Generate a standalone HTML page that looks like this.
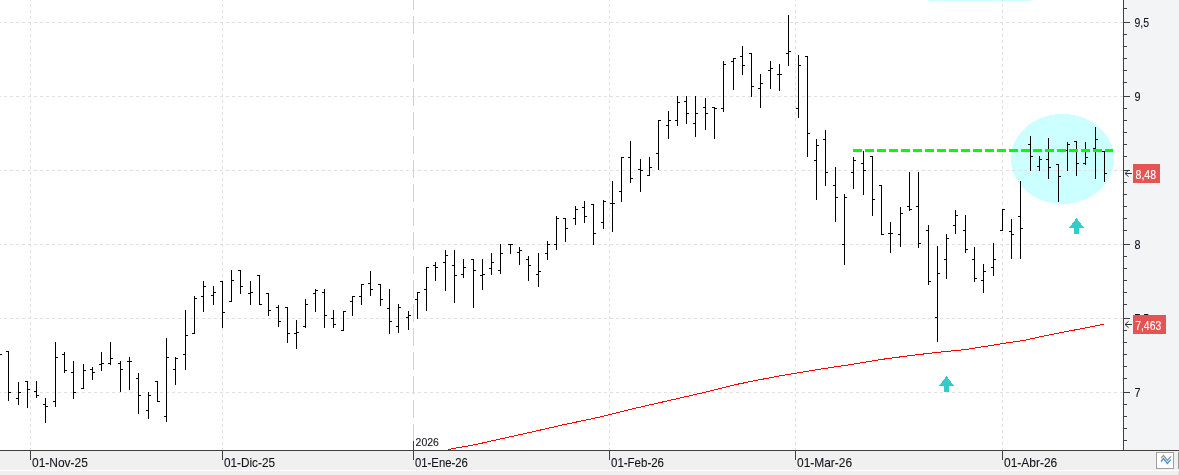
<!DOCTYPE html>
<html lang="es"><head><meta charset="utf-8"><title>Grafico</title>
<style>html,body{margin:0;padding:0;background:#fff;overflow:hidden}svg{display:block}text{font-family:"Liberation Sans",sans-serif;fill:#14141e;stroke:#14141e;stroke-width:0.1px}</style>
</head><body>
<svg width="1179" height="475" viewBox="0 0 1179 475" shape-rendering="crispEdges">
<rect x="0" y="0" width="1179" height="475" fill="#ffffff"/>
<rect x="1124" y="0" width="55" height="450" fill="#f3f4f6"/>
<rect x="0" y="451" width="1179" height="24" fill="#f0f0f0"/>
<rect x="0" y="470" width="1179" height="1" fill="#ffffff"/>
<rect x="1178" y="452" width="1" height="17" fill="#9a9a9a"/>
<rect x="1178" y="471" width="1" height="4" fill="#dcdcdc"/>
<rect x="929" y="0" width="102" height="1" fill="#ccffff"/>
<ellipse cx="1062.5" cy="159" rx="51.5" ry="45" fill="#ccffff"/>
<line x1="413.5" y1="0" x2="413.5" y2="441" stroke="#d2d2d2" stroke-width="1" stroke-dasharray="18 6" stroke-dashoffset="8"/>
<g stroke="#e0e0e0" stroke-width="1" stroke-dasharray="3 3" stroke-dashoffset="2" fill="none">
<line x1="0" y1="22.5" x2="1123" y2="22.5"/>
<line x1="0" y1="96.5" x2="1123" y2="96.5"/>
<line x1="0" y1="170.5" x2="1123" y2="170.5"/>
<line x1="0" y1="244.5" x2="1123" y2="244.5"/>
<line x1="0" y1="318.5" x2="1123" y2="318.5"/>
<line x1="0" y1="392.5" x2="1123" y2="392.5"/>
<line x1="30.5" y1="0" x2="30.5" y2="450"/>
<line x1="222.5" y1="0" x2="222.5" y2="450"/>
<line x1="609.5" y1="0" x2="609.5" y2="450"/>
<line x1="795.5" y1="0" x2="795.5" y2="450"/>
<line x1="1002.5" y1="0" x2="1002.5" y2="450"/>
</g>
<g fill="#000000">
<rect x="0" y="354" width="2" height="1"/>
<rect x="8" y="351" width="1" height="50"/>
<rect x="6" y="351" width="2" height="1"/>
<rect x="9" y="392" width="2" height="1"/>
<rect x="18" y="382" width="1" height="23"/>
<rect x="16" y="398" width="2" height="1"/>
<rect x="19" y="392" width="2" height="1"/>
<rect x="27" y="381" width="1" height="27"/>
<rect x="25" y="381" width="2" height="1"/>
<rect x="28" y="389" width="2" height="1"/>
<rect x="36" y="381" width="1" height="17"/>
<rect x="34" y="391" width="2" height="1"/>
<rect x="37" y="395" width="2" height="1"/>
<rect x="45" y="398" width="1" height="25"/>
<rect x="43" y="404" width="2" height="1"/>
<rect x="46" y="406" width="2" height="1"/>
<rect x="55" y="342" width="1" height="65"/>
<rect x="53" y="401" width="2" height="1"/>
<rect x="56" y="357" width="2" height="1"/>
<rect x="64" y="352" width="1" height="21"/>
<rect x="62" y="354" width="2" height="1"/>
<rect x="65" y="370" width="2" height="1"/>
<rect x="73" y="361" width="1" height="38"/>
<rect x="71" y="372" width="2" height="1"/>
<rect x="74" y="392" width="2" height="1"/>
<rect x="83" y="364" width="1" height="25"/>
<rect x="81" y="388" width="2" height="1"/>
<rect x="84" y="370" width="2" height="1"/>
<rect x="92" y="367" width="1" height="13"/>
<rect x="90" y="369" width="2" height="1"/>
<rect x="93" y="372" width="2" height="1"/>
<rect x="101" y="352" width="1" height="19"/>
<rect x="99" y="364" width="2" height="1"/>
<rect x="102" y="363" width="2" height="1"/>
<rect x="110" y="342" width="1" height="23"/>
<rect x="108" y="363" width="2" height="1"/>
<rect x="111" y="358" width="2" height="1"/>
<rect x="120" y="361" width="1" height="31"/>
<rect x="118" y="363" width="2" height="1"/>
<rect x="121" y="369" width="2" height="1"/>
<rect x="129" y="357" width="1" height="33"/>
<rect x="127" y="361" width="2" height="1"/>
<rect x="130" y="361" width="2" height="1"/>
<rect x="138" y="373" width="1" height="41"/>
<rect x="136" y="378" width="2" height="1"/>
<rect x="139" y="395" width="2" height="1"/>
<rect x="148" y="392" width="1" height="27"/>
<rect x="146" y="410" width="2" height="1"/>
<rect x="149" y="395" width="2" height="1"/>
<rect x="157" y="381" width="1" height="21"/>
<rect x="155" y="381" width="2" height="1"/>
<rect x="158" y="401" width="2" height="1"/>
<rect x="166" y="338" width="1" height="84"/>
<rect x="164" y="416" width="2" height="1"/>
<rect x="167" y="357" width="2" height="1"/>
<rect x="175" y="357" width="1" height="28"/>
<rect x="173" y="369" width="2" height="1"/>
<rect x="176" y="358" width="2" height="1"/>
<rect x="185" y="310" width="1" height="60"/>
<rect x="183" y="354" width="2" height="1"/>
<rect x="186" y="335" width="2" height="1"/>
<rect x="194" y="296" width="1" height="38"/>
<rect x="192" y="333" width="2" height="1"/>
<rect x="195" y="298" width="2" height="1"/>
<rect x="203" y="281" width="1" height="31"/>
<rect x="201" y="296" width="2" height="1"/>
<rect x="204" y="286" width="2" height="1"/>
<rect x="213" y="286" width="1" height="19"/>
<rect x="211" y="295" width="2" height="1"/>
<rect x="214" y="292" width="2" height="1"/>
<rect x="222" y="281" width="1" height="47"/>
<rect x="220" y="281" width="2" height="1"/>
<rect x="223" y="312" width="2" height="1"/>
<rect x="231" y="270" width="1" height="32"/>
<rect x="229" y="301" width="2" height="1"/>
<rect x="232" y="280" width="2" height="1"/>
<rect x="240" y="270" width="1" height="24"/>
<rect x="238" y="270" width="2" height="1"/>
<rect x="241" y="286" width="2" height="1"/>
<rect x="250" y="281" width="1" height="24"/>
<rect x="248" y="293" width="2" height="1"/>
<rect x="251" y="292" width="2" height="1"/>
<rect x="259" y="275" width="1" height="30"/>
<rect x="257" y="275" width="2" height="1"/>
<rect x="260" y="304" width="2" height="1"/>
<rect x="268" y="293" width="1" height="23"/>
<rect x="266" y="293" width="2" height="1"/>
<rect x="269" y="310" width="2" height="1"/>
<rect x="278" y="305" width="1" height="22"/>
<rect x="276" y="307" width="2" height="1"/>
<rect x="279" y="321" width="2" height="1"/>
<rect x="287" y="307" width="1" height="36"/>
<rect x="285" y="307" width="2" height="1"/>
<rect x="288" y="333" width="2" height="1"/>
<rect x="296" y="320" width="1" height="29"/>
<rect x="294" y="333" width="2" height="1"/>
<rect x="297" y="332" width="2" height="1"/>
<rect x="305" y="299" width="1" height="29"/>
<rect x="303" y="326" width="2" height="1"/>
<rect x="306" y="304" width="2" height="1"/>
<rect x="315" y="289" width="1" height="23"/>
<rect x="313" y="293" width="2" height="1"/>
<rect x="316" y="290" width="2" height="1"/>
<rect x="324" y="289" width="1" height="39"/>
<rect x="322" y="292" width="2" height="1"/>
<rect x="325" y="315" width="2" height="1"/>
<rect x="333" y="310" width="1" height="18"/>
<rect x="331" y="318" width="2" height="1"/>
<rect x="334" y="324" width="2" height="1"/>
<rect x="343" y="311" width="1" height="20"/>
<rect x="341" y="330" width="2" height="1"/>
<rect x="344" y="311" width="2" height="1"/>
<rect x="352" y="296" width="1" height="20"/>
<rect x="350" y="301" width="2" height="1"/>
<rect x="353" y="296" width="2" height="1"/>
<rect x="361" y="284" width="1" height="21"/>
<rect x="359" y="296" width="2" height="1"/>
<rect x="362" y="284" width="2" height="1"/>
<rect x="370" y="271" width="1" height="25"/>
<rect x="368" y="283" width="2" height="1"/>
<rect x="371" y="289" width="2" height="1"/>
<rect x="380" y="284" width="1" height="22"/>
<rect x="378" y="284" width="2" height="1"/>
<rect x="381" y="299" width="2" height="1"/>
<rect x="389" y="289" width="1" height="45"/>
<rect x="387" y="308" width="2" height="1"/>
<rect x="390" y="321" width="2" height="1"/>
<rect x="398" y="304" width="1" height="29"/>
<rect x="396" y="326" width="2" height="1"/>
<rect x="399" y="307" width="2" height="1"/>
<rect x="408" y="311" width="1" height="19"/>
<rect x="406" y="317" width="2" height="1"/>
<rect x="409" y="315" width="2" height="1"/>
<rect x="417" y="292" width="1" height="27"/>
<rect x="415" y="299" width="2" height="1"/>
<rect x="418" y="292" width="2" height="1"/>
<rect x="426" y="267" width="1" height="44"/>
<rect x="424" y="289" width="2" height="1"/>
<rect x="427" y="267" width="2" height="1"/>
<rect x="435" y="262" width="1" height="19"/>
<rect x="433" y="265" width="2" height="1"/>
<rect x="436" y="267" width="2" height="1"/>
<rect x="445" y="250" width="1" height="41"/>
<rect x="443" y="262" width="2" height="1"/>
<rect x="446" y="255" width="2" height="1"/>
<rect x="454" y="250" width="1" height="53"/>
<rect x="452" y="265" width="2" height="1"/>
<rect x="455" y="275" width="2" height="1"/>
<rect x="463" y="259" width="1" height="19"/>
<rect x="461" y="274" width="2" height="1"/>
<rect x="464" y="267" width="2" height="1"/>
<rect x="473" y="259" width="1" height="49"/>
<rect x="471" y="259" width="2" height="1"/>
<rect x="474" y="270" width="2" height="1"/>
<rect x="482" y="259" width="1" height="31"/>
<rect x="480" y="275" width="2" height="1"/>
<rect x="483" y="274" width="2" height="1"/>
<rect x="491" y="253" width="1" height="22"/>
<rect x="489" y="268" width="2" height="1"/>
<rect x="492" y="262" width="2" height="1"/>
<rect x="500" y="244" width="1" height="30"/>
<rect x="498" y="270" width="2" height="1"/>
<rect x="501" y="253" width="2" height="1"/>
<rect x="510" y="244" width="1" height="10"/>
<rect x="508" y="244" width="2" height="1"/>
<rect x="511" y="244" width="2" height="1"/>
<rect x="519" y="247" width="1" height="18"/>
<rect x="517" y="252" width="2" height="1"/>
<rect x="520" y="250" width="2" height="1"/>
<rect x="528" y="256" width="1" height="25"/>
<rect x="526" y="259" width="2" height="1"/>
<rect x="529" y="265" width="2" height="1"/>
<rect x="538" y="253" width="1" height="34"/>
<rect x="536" y="274" width="2" height="1"/>
<rect x="539" y="271" width="2" height="1"/>
<rect x="547" y="241" width="1" height="19"/>
<rect x="545" y="253" width="2" height="1"/>
<rect x="548" y="244" width="2" height="1"/>
<rect x="556" y="216" width="1" height="34"/>
<rect x="554" y="244" width="2" height="1"/>
<rect x="557" y="218" width="2" height="1"/>
<rect x="565" y="218" width="1" height="24"/>
<rect x="563" y="218" width="2" height="1"/>
<rect x="566" y="228" width="2" height="1"/>
<rect x="575" y="206" width="1" height="19"/>
<rect x="573" y="218" width="2" height="1"/>
<rect x="576" y="209" width="2" height="1"/>
<rect x="584" y="201" width="1" height="22"/>
<rect x="582" y="207" width="2" height="1"/>
<rect x="585" y="216" width="2" height="1"/>
<rect x="593" y="204" width="1" height="41"/>
<rect x="591" y="204" width="2" height="1"/>
<rect x="594" y="233" width="2" height="1"/>
<rect x="603" y="200" width="1" height="29"/>
<rect x="601" y="222" width="2" height="1"/>
<rect x="604" y="201" width="2" height="1"/>
<rect x="612" y="181" width="1" height="51"/>
<rect x="610" y="203" width="2" height="1"/>
<rect x="613" y="203" width="2" height="1"/>
<rect x="621" y="157" width="1" height="45"/>
<rect x="619" y="191" width="2" height="1"/>
<rect x="622" y="157" width="2" height="1"/>
<rect x="630" y="141" width="1" height="42"/>
<rect x="628" y="157" width="2" height="1"/>
<rect x="631" y="178" width="2" height="1"/>
<rect x="640" y="159" width="1" height="33"/>
<rect x="638" y="169" width="2" height="1"/>
<rect x="641" y="170" width="2" height="1"/>
<rect x="649" y="157" width="1" height="19"/>
<rect x="647" y="175" width="2" height="1"/>
<rect x="650" y="167" width="2" height="1"/>
<rect x="658" y="120" width="1" height="50"/>
<rect x="656" y="153" width="2" height="1"/>
<rect x="659" y="120" width="2" height="1"/>
<rect x="668" y="111" width="1" height="28"/>
<rect x="666" y="125" width="2" height="1"/>
<rect x="669" y="120" width="2" height="1"/>
<rect x="677" y="96" width="1" height="30"/>
<rect x="675" y="120" width="2" height="1"/>
<rect x="678" y="102" width="2" height="1"/>
<rect x="686" y="96" width="1" height="28"/>
<rect x="684" y="101" width="2" height="1"/>
<rect x="687" y="113" width="2" height="1"/>
<rect x="695" y="96" width="1" height="41"/>
<rect x="693" y="123" width="2" height="1"/>
<rect x="696" y="113" width="2" height="1"/>
<rect x="705" y="98" width="1" height="32"/>
<rect x="703" y="107" width="2" height="1"/>
<rect x="706" y="113" width="2" height="1"/>
<rect x="714" y="107" width="1" height="32"/>
<rect x="712" y="107" width="2" height="1"/>
<rect x="715" y="108" width="2" height="1"/>
<rect x="723" y="61" width="1" height="51"/>
<rect x="721" y="108" width="2" height="1"/>
<rect x="724" y="64" width="2" height="1"/>
<rect x="733" y="58" width="1" height="32"/>
<rect x="731" y="61" width="2" height="1"/>
<rect x="734" y="58" width="2" height="1"/>
<rect x="742" y="46" width="1" height="29"/>
<rect x="740" y="56" width="2" height="1"/>
<rect x="743" y="65" width="2" height="1"/>
<rect x="751" y="53" width="1" height="44"/>
<rect x="749" y="53" width="2" height="1"/>
<rect x="752" y="86" width="2" height="1"/>
<rect x="760" y="74" width="1" height="34"/>
<rect x="758" y="88" width="2" height="1"/>
<rect x="761" y="83" width="2" height="1"/>
<rect x="770" y="61" width="1" height="28"/>
<rect x="768" y="70" width="2" height="1"/>
<rect x="771" y="68" width="2" height="1"/>
<rect x="779" y="64" width="1" height="27"/>
<rect x="777" y="74" width="2" height="1"/>
<rect x="780" y="74" width="2" height="1"/>
<rect x="788" y="15" width="1" height="51"/>
<rect x="786" y="53" width="2" height="1"/>
<rect x="789" y="51" width="2" height="1"/>
<rect x="798" y="55" width="1" height="63"/>
<rect x="796" y="108" width="2" height="1"/>
<rect x="799" y="65" width="2" height="1"/>
<rect x="807" y="56" width="1" height="101"/>
<rect x="805" y="56" width="2" height="1"/>
<rect x="808" y="133" width="2" height="1"/>
<rect x="816" y="139" width="1" height="61"/>
<rect x="814" y="160" width="2" height="1"/>
<rect x="817" y="145" width="2" height="1"/>
<rect x="825" y="130" width="1" height="56"/>
<rect x="823" y="139" width="2" height="1"/>
<rect x="826" y="172" width="2" height="1"/>
<rect x="835" y="167" width="1" height="55"/>
<rect x="833" y="185" width="2" height="1"/>
<rect x="836" y="197" width="2" height="1"/>
<rect x="844" y="194" width="1" height="71"/>
<rect x="842" y="244" width="2" height="1"/>
<rect x="845" y="197" width="2" height="1"/>
<rect x="853" y="157" width="1" height="32"/>
<rect x="851" y="172" width="2" height="1"/>
<rect x="854" y="160" width="2" height="1"/>
<rect x="863" y="151" width="1" height="44"/>
<rect x="861" y="163" width="2" height="1"/>
<rect x="864" y="170" width="2" height="1"/>
<rect x="872" y="156" width="1" height="60"/>
<rect x="870" y="156" width="2" height="1"/>
<rect x="873" y="199" width="2" height="1"/>
<rect x="881" y="185" width="1" height="50"/>
<rect x="879" y="185" width="2" height="1"/>
<rect x="882" y="234" width="2" height="1"/>
<rect x="890" y="222" width="1" height="31"/>
<rect x="888" y="233" width="2" height="1"/>
<rect x="891" y="233" width="2" height="1"/>
<rect x="900" y="207" width="1" height="40"/>
<rect x="898" y="234" width="2" height="1"/>
<rect x="901" y="213" width="2" height="1"/>
<rect x="909" y="172" width="1" height="39"/>
<rect x="907" y="206" width="2" height="1"/>
<rect x="910" y="209" width="2" height="1"/>
<rect x="918" y="172" width="1" height="76"/>
<rect x="916" y="206" width="2" height="1"/>
<rect x="919" y="243" width="2" height="1"/>
<rect x="928" y="225" width="1" height="60"/>
<rect x="926" y="230" width="2" height="1"/>
<rect x="929" y="281" width="2" height="1"/>
<rect x="937" y="246" width="1" height="96"/>
<rect x="935" y="317" width="2" height="1"/>
<rect x="938" y="273" width="2" height="1"/>
<rect x="946" y="234" width="1" height="45"/>
<rect x="944" y="259" width="2" height="1"/>
<rect x="947" y="238" width="2" height="1"/>
<rect x="955" y="210" width="1" height="24"/>
<rect x="953" y="225" width="2" height="1"/>
<rect x="956" y="215" width="2" height="1"/>
<rect x="965" y="215" width="1" height="38"/>
<rect x="963" y="230" width="2" height="1"/>
<rect x="966" y="249" width="2" height="1"/>
<rect x="974" y="247" width="1" height="35"/>
<rect x="972" y="259" width="2" height="1"/>
<rect x="975" y="278" width="2" height="1"/>
<rect x="983" y="264" width="1" height="29"/>
<rect x="981" y="280" width="2" height="1"/>
<rect x="984" y="271" width="2" height="1"/>
<rect x="993" y="243" width="1" height="33"/>
<rect x="991" y="267" width="2" height="1"/>
<rect x="994" y="259" width="2" height="1"/>
<rect x="1002" y="209" width="1" height="22"/>
<rect x="1000" y="230" width="2" height="1"/>
<rect x="1003" y="209" width="2" height="1"/>
<rect x="1011" y="219" width="1" height="40"/>
<rect x="1009" y="231" width="2" height="1"/>
<rect x="1012" y="234" width="2" height="1"/>
<rect x="1020" y="181" width="1" height="78"/>
<rect x="1018" y="216" width="2" height="1"/>
<rect x="1021" y="228" width="2" height="1"/>
<rect x="1030" y="136" width="1" height="35"/>
<rect x="1028" y="144" width="2" height="1"/>
<rect x="1031" y="156" width="2" height="1"/>
<rect x="1039" y="156" width="1" height="15"/>
<rect x="1037" y="166" width="2" height="1"/>
<rect x="1040" y="159" width="2" height="1"/>
<rect x="1048" y="138" width="1" height="41"/>
<rect x="1046" y="159" width="2" height="1"/>
<rect x="1049" y="167" width="2" height="1"/>
<rect x="1058" y="164" width="1" height="38"/>
<rect x="1056" y="164" width="2" height="1"/>
<rect x="1059" y="176" width="2" height="1"/>
<rect x="1067" y="142" width="1" height="29"/>
<rect x="1065" y="150" width="2" height="1"/>
<rect x="1068" y="144" width="2" height="1"/>
<rect x="1076" y="141" width="1" height="35"/>
<rect x="1074" y="141" width="2" height="1"/>
<rect x="1077" y="163" width="2" height="1"/>
<rect x="1085" y="142" width="1" height="23"/>
<rect x="1083" y="163" width="2" height="1"/>
<rect x="1086" y="157" width="2" height="1"/>
<rect x="1095" y="127" width="1" height="52"/>
<rect x="1093" y="148" width="2" height="1"/>
<rect x="1096" y="139" width="2" height="1"/>
<rect x="1104" y="151" width="1" height="31"/>
<rect x="1102" y="151" width="2" height="1"/>
<rect x="1105" y="173" width="2" height="1"/>
</g>
<line x1="853" y1="150.5" x2="1113" y2="150.5" stroke="#00ff00" stroke-width="3" stroke-dasharray="9 3"/>
<polyline fill="none" stroke="#ff0000" stroke-width="1" points="448,449.5 475.5,444.6 506.1,437.7 536.6,430.9 565,424.4 590.5,419.1 609.6,414.7 631.2,409.2 651.6,404.5 680,398.0 705.5,392.15 736.1,384.5 756.4,380.4 776.8,376.4 795,373.4 820.5,369.1 851.1,364.5 881.6,359.4 910,355.6 935.5,352.6 966.1,349.5 1002.5,343.6 1025,340.2 1045.5,335.6 1076.1,329.7 1103.9,324.3"/>
<path fill="#33cccc" d="M1076.5 218 L1084.0 228 L1079.0 228 L1079.0 234 L1074.0 234 L1074.0 228 L1069.0 228 Z"/>
<path fill="#33cccc" d="M946.5 376 L954.0 386 L949.0 386 L949.0 392 L944.0 392 L944.0 386 L939.0 386 Z"/>
<g fill="#404040">
<rect x="1123" y="0" width="1" height="451"/>
<rect x="0" y="450" width="1179" height="1"/>
<rect x="1124" y="22" width="6" height="1"/>
<rect x="1124" y="34" width="3" height="1"/>
<rect x="1124" y="46" width="3" height="1"/>
<rect x="1124" y="58" width="3" height="1"/>
<rect x="1124" y="70" width="3" height="1"/>
<rect x="1124" y="82" width="3" height="1"/>
<rect x="1124" y="96" width="6" height="1"/>
<rect x="1124" y="108" width="3" height="1"/>
<rect x="1124" y="120" width="3" height="1"/>
<rect x="1124" y="132" width="3" height="1"/>
<rect x="1124" y="144" width="3" height="1"/>
<rect x="1124" y="156" width="3" height="1"/>
<rect x="1124" y="170" width="6" height="1"/>
<rect x="1124" y="182" width="3" height="1"/>
<rect x="1124" y="194" width="3" height="1"/>
<rect x="1124" y="206" width="3" height="1"/>
<rect x="1124" y="218" width="3" height="1"/>
<rect x="1124" y="230" width="3" height="1"/>
<rect x="1124" y="244" width="6" height="1"/>
<rect x="1124" y="256" width="3" height="1"/>
<rect x="1124" y="268" width="3" height="1"/>
<rect x="1124" y="280" width="3" height="1"/>
<rect x="1124" y="292" width="3" height="1"/>
<rect x="1124" y="304" width="3" height="1"/>
<rect x="1124" y="318" width="6" height="1"/>
<rect x="1124" y="330" width="3" height="1"/>
<rect x="1124" y="342" width="3" height="1"/>
<rect x="1124" y="354" width="3" height="1"/>
<rect x="1124" y="366" width="3" height="1"/>
<rect x="1124" y="378" width="3" height="1"/>
<rect x="1124" y="392" width="6" height="1"/>
<rect x="1124" y="404" width="3" height="1"/>
<rect x="1124" y="416" width="3" height="1"/>
<rect x="1124" y="428" width="3" height="1"/>
<rect x="1124" y="440" width="3" height="1"/>
<rect x="1124" y="8" width="3" height="1"/>
<rect x="30" y="450" width="1" height="10"/>
<rect x="222" y="450" width="1" height="10"/>
<rect x="609" y="450" width="1" height="10"/>
<rect x="795" y="450" width="1" height="10"/>
<rect x="1002" y="450" width="1" height="10"/>
<rect x="413" y="441" width="1" height="19"/>
</g>
<g font-size="12.5px" shape-rendering="auto">
<text x="1134.4" y="27.1" textLength="14.6" lengthAdjust="spacingAndGlyphs">9,5</text>
<text x="1134.4" y="101.1" textLength="6" lengthAdjust="spacingAndGlyphs">9</text>
<text x="1134.4" y="175.1" textLength="14.6" lengthAdjust="spacingAndGlyphs">8,5</text>
<text x="1134.4" y="249.1" textLength="6" lengthAdjust="spacingAndGlyphs">8</text>
<text x="1134.4" y="323.1" textLength="14.6" lengthAdjust="spacingAndGlyphs">7,5</text>
<text x="1134.4" y="397.1" textLength="6" lengthAdjust="spacingAndGlyphs">7</text>
</g>
<rect x="1133" y="164" width="27" height="19" fill="#e55353"/>
<rect x="1133" y="315" width="33" height="19" fill="#e55353"/>
<g font-size="12.5px" shape-rendering="auto">
<text x="1135.6" y="179.1" textLength="20.5" lengthAdjust="spacingAndGlyphs" style="fill:#ffffff;stroke:#ffffff">8,48</text>
<text x="1135.2" y="330.1" textLength="26" lengthAdjust="spacingAndGlyphs" style="fill:#ffffff;stroke:#ffffff">7,463</text>
</g>
<path shape-rendering="auto" fill="none" stroke="#303030" stroke-width="1" d="M1125 173.5 H1132 M1128.6 170.3 L1125 173.5 L1128.6 176.7"/>
<path shape-rendering="auto" fill="none" stroke="#303030" stroke-width="1" d="M1125 324.5 H1132 M1128.6 321.3 L1125 324.5 L1128.6 327.7"/>
<g font-size="12.7px" shape-rendering="auto">
<text x="32" y="467.05" textLength="55.9" lengthAdjust="spacingAndGlyphs">01-Nov-25</text>
<text x="224" y="467.05" textLength="51" lengthAdjust="spacingAndGlyphs">01-Dic-25</text>
<text x="415" y="467.05" textLength="52.8" lengthAdjust="spacingAndGlyphs">01-Ene-26</text>
<text x="611" y="467.05" textLength="53" lengthAdjust="spacingAndGlyphs">01-Feb-26</text>
<text x="797" y="467.05" textLength="55.1" lengthAdjust="spacingAndGlyphs">01-Mar-26</text>
<text x="1004" y="467.05" textLength="53.2" lengthAdjust="spacingAndGlyphs">01-Abr-26</text>
</g>
<text x="415.6" y="445.6" font-size="11.8px" textLength="23.3" lengthAdjust="spacingAndGlyphs" shape-rendering="auto">2026</text>
<rect x="1156.5" y="452.5" width="17" height="16" fill="#ffffff" stroke="#a0a0a0" stroke-width="1"/>
<polyline shape-rendering="auto" fill="none" stroke="#909090" stroke-width="1.25" points="1161.1,458.2 1163.5,455.4 1167.4,460.5 1170.9,456.4"/>
<polyline shape-rendering="auto" fill="none" stroke="#3a96dd" stroke-width="1.35" points="1161.1,461.5 1163.5,458.6 1167.4,463.4 1170.9,459.6"/>
</svg></body></html>
